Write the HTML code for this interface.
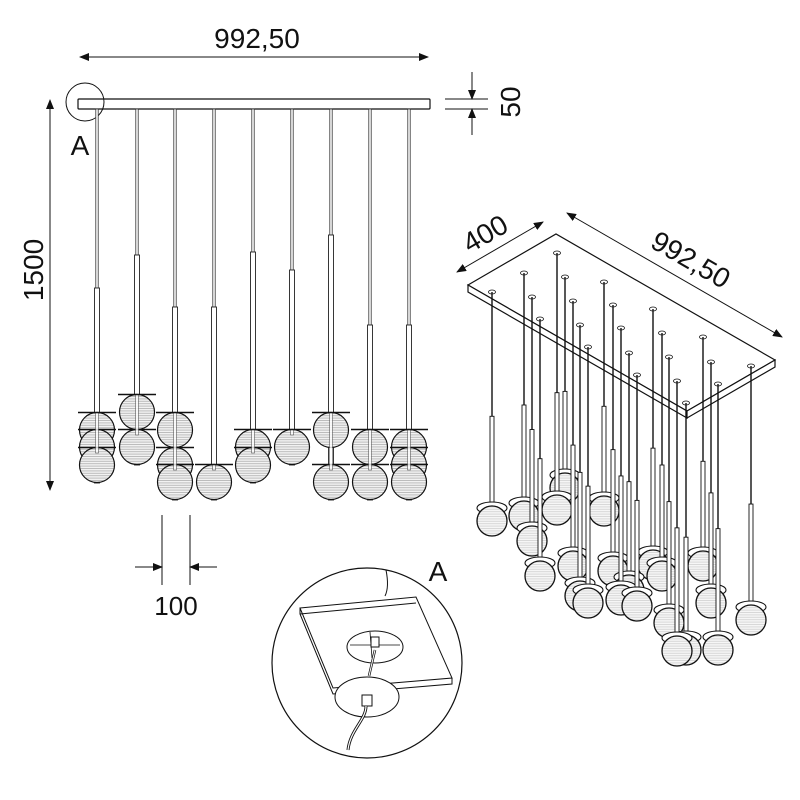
<!DOCTYPE html>
<html><head><meta charset="utf-8"><style>
html,body{margin:0;padding:0;background:#fff;width:800px;height:800px;overflow:hidden}
svg{display:block}
text{font-family:"Liberation Sans",sans-serif;fill:#111}
</style></head><body>
<svg id="s" width="800" height="800" viewBox="0 0 800 800" xmlns="http://www.w3.org/2000/svg">
<defs>
<pattern id="hl" width="4" height="2.4" patternUnits="userSpaceOnUse"><rect width="4" height="2.4" fill="#f2f2f2"/><line x1="0" y1="0.5" x2="4" y2="0.5" stroke="#999" stroke-width="0.6"/></pattern>
<pattern id="hl2" width="4" height="2.4" patternUnits="userSpaceOnUse"><rect width="4" height="2.4" fill="#f6f6f6"/><line x1="0" y1="0.5" x2="4" y2="0.5" stroke="#bbb" stroke-width="0.5"/></pattern>
<marker id="ar" markerWidth="10" markerHeight="8" refX="9" refY="4" orient="auto-start-reverse" markerUnits="userSpaceOnUse"><path d="M0,0 L10,4 L0,8 Z" fill="#111"/></marker>
</defs>
<line x1="80" y1="57" x2="428" y2="57" stroke="#111" stroke-width="1" marker-start="url(#ar)" marker-end="url(#ar)"/>
<text x="257" y="48" font-size="28" text-anchor="middle">992,50</text>
<line x1="50" y1="100" x2="50" y2="490" stroke="#111" stroke-width="1" marker-start="url(#ar)" marker-end="url(#ar)"/>
<text transform="translate(43,270) rotate(-90)" font-size="28" text-anchor="middle">1500</text>
<line x1="445" y1="99" x2="488" y2="99" stroke="#111"/>
<line x1="445" y1="109" x2="488" y2="109" stroke="#111"/>
<line x1="472" y1="72" x2="472" y2="99" stroke="#111" marker-end="url(#ar)"/>
<line x1="472" y1="135" x2="472" y2="109" stroke="#111" marker-end="url(#ar)"/>
<text transform="translate(520,102) rotate(-90)" font-size="28" text-anchor="middle">50</text>
<rect x="78" y="99" width="352" height="10" fill="#fff" stroke="#111" stroke-width="1.2" rx="1"/>
<circle cx="85" cy="102" r="19" fill="none" stroke="#111" stroke-width="1"/>
<text x="80" y="155" font-size="28" text-anchor="middle">A</text>
<line x1="162" y1="515" x2="162" y2="585" stroke="#111"/>
<line x1="190" y1="515" x2="190" y2="585" stroke="#111"/>
<line x1="135" y1="567" x2="162" y2="567" stroke="#111" marker-end="url(#ar)"/>
<line x1="217" y1="567" x2="190" y2="567" stroke="#111" marker-end="url(#ar)"/>
<text x="176" y="615" font-size="26" text-anchor="middle">100</text>
<line x1="457" y1="272" x2="543" y2="222" stroke="#111" marker-start="url(#ar)" marker-end="url(#ar)"/>
<text transform="translate(490,242) rotate(-30)" font-size="28" text-anchor="middle">400</text>
<line x1="567" y1="213" x2="782" y2="337" stroke="#111" marker-start="url(#ar)" marker-end="url(#ar)"/>
<text transform="translate(686,268) rotate(30)" font-size="28" text-anchor="middle">992,50</text>
<polygon points="468,285 556,234 775,360 687,411 " fill="#fff" stroke="#111" stroke-width="1.2"/>
<polygon points="468,285 687,411 687,418 468,292" fill="#fff" stroke="#111" stroke-width="1.2"/>
<polygon points="687,411 775,360 775,367 687,418" fill="#fff" stroke="#111" stroke-width="1.2"/>
<g id="front"></g>
<g id="iso"></g>
<circle cx="367" cy="663" r="95" fill="#fff" stroke="#111" stroke-width="1.2"/>
<path d="M386,570 C388,580 388,590 385,596" fill="none" stroke="#111"/>
<path d="M300,608 L416,597 L452,678 L333,688 Z" fill="#fff" stroke="#111"/>
<path d="M300,608 L300,614 L333,694 L452,684 L452,678" fill="none" stroke="#111"/>
<path d="M300,614 L416,603" fill="none" stroke="#111"/>
<ellipse cx="375" cy="647" rx="28" ry="16" fill="#fff" stroke="#111"/>
<path d="M350,645 L400,645 M370,632 L372,658" stroke="#111" fill="none" stroke-width="0.8"/>
<rect x="371" y="637" width="8" height="10" fill="#fff" stroke="#111"/>
<path d="M375,650 L369,676" stroke="#111" fill="none" stroke-width="2.5"/>
<path d="M375,650 L369,676" stroke="#fff" fill="none" stroke-width="1"/>
<ellipse cx="367" cy="697" rx="32" ry="20" fill="#fff" stroke="#111"/>
<rect x="362" y="695" width="10" height="11" fill="#fff" stroke="#111"/>
<path d="M366,706 C366,720 350,730 348,750" stroke="#111" fill="none" stroke-width="3"/>
<path d="M366,706 C366,720 350,730 348,750" stroke="#fff" fill="none" stroke-width="1.2"/>
<text x="438" y="581" font-size="28" text-anchor="middle">A</text>
</svg>
<script>
var NS="http://www.w3.org/2000/svg";
function el(p,t,a){var e=document.createElementNS(NS,t);for(var k in a)e.setAttribute(k,a[k]);p.appendChild(e);return e;}
var F=document.getElementById("front");
var xs=[97,137,175,214,253,292,331,370,409];
var tubes=[288,255,307,307,252,270,235,325,325];
var balls=[[430,447,465],[412,447],[430,465,482],[482],[447,465],[447],[430,482],[447,482],[447,465,482]];
for(var i=0;i<9;i++){
 var x=xs[i],b=balls[i],last=b[b.length-1];
 el(F,"rect",{x:x-1.2,y:109,width:2.4,height:tubes[i]-109,fill:"#fff",stroke:"#333","stroke-width":0.8});
 el(F,"rect",{x:x-2.5,y:tubes[i],width:5,height:last-17-tubes[i]+35,fill:"#fff",stroke:"#222","stroke-width":0.9});
 for(var j=0;j<b.length;j++){
  el(F,"circle",{cx:x,cy:b[j],r:17.5,fill:"url(#hl)",stroke:"#111","stroke-width":1.2});
  el(F,"line",{x1:x-19,y1:b[j]-17.5,x2:x+19,y2:b[j]-17.5,stroke:"#111","stroke-width":1.6});
 }
 el(F,"rect",{x:x-1.5,y:b[0]-17,width:3,height:last-b[0]+5,fill:"#fff",stroke:"#333","stroke-width":0.6,opacity:0.8});
}
var I=document.getElementById("iso");
var r=[[492,292,492,518],[524,273,524,513],[532,297,532,538],[540,319,540,573],[557,253,557,507],[565,277,565,485],[573,301,573,563],[580,325,580,593],[588,347,588,600],[604,282,604,508],[613,305,613,568],[621,328,621,597],[629,353,629,587],[637,375,637,603],[653,309,653,562],[662,333,662,573],[669,357,669,620],[677,381,677,648],[686,403,686,647],[703,337,703,563],[711,362,711,600],[718,384,718,647],[751,366,751,617]];
r.sort(function(a,b){return a[3]-b[3];});
r.forEach(function(q){
 el(I,"ellipse",{cx:q[0],cy:q[1],rx:3.5,ry:2,fill:"#fff",stroke:"#111","stroke-width":0.8});
 var ty=q[1]+(q[3]-q[1])*0.55;
 el(I,"line",{x1:q[0],y1:q[1],x2:q[0],y2:ty,stroke:"#111","stroke-width":1.4});
 el(I,"rect",{x:q[0]-2,y:ty,width:4,height:q[3]-ty-14,fill:"#fff",stroke:"#111","stroke-width":0.9});
 el(I,"ellipse",{cx:q[0],cy:q[3]-10,rx:15,ry:6,fill:"#fff",stroke:"#111","stroke-width":1.1});
 el(I,"circle",{cx:q[0],cy:q[3]+3,r:15,fill:"url(#hl2)",stroke:"#111","stroke-width":1.3});
});
</script>
</body></html>
